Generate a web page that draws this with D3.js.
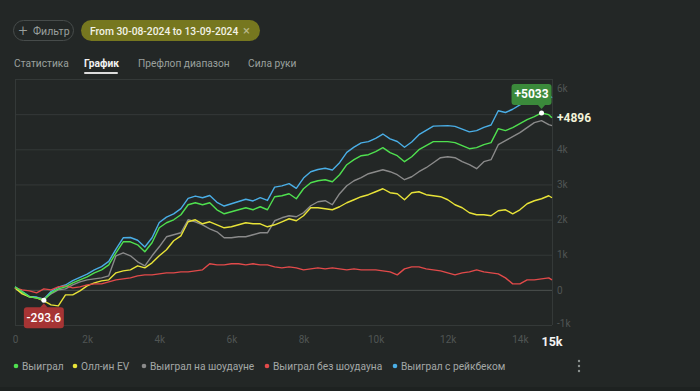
<!DOCTYPE html>
<html><head><meta charset="utf-8">
<script src="https://cdn.jsdelivr.net/npm/d3@7/dist/d3.min.js"></script>
<style>
html,body{margin:0;padding:0;background:#232726;}
svg{display:block;font-family:Roboto,"Noto Sans",sans-serif;}
</style></head><body>
<svg id="c" width="700" height="391"></svg>
<script>
const hands = [0,200,400,600,800,1000,1200,1400,1600,1800,2000,2200,2400,2600,2800,3000,3200,3400,3600,3800,4000,4200,4400,4600,4800,5000,5200,5400,5600,5800,6000,6200,6400,6600,6800,7000,7200,7400,7600,7800,8000,8200,8400,8600,8800,9000,9200,9400,9600,9800,10000,10200,10400,10600,10800,11000,11200,11400,11600,11800,12000,12200,12400,12600,12800,13000,13200,13400,13600,13800,14000,14200,14400,14600,14800,14890];
const won = [85,-57,-199,-228,-293.6,-85,28,85,199,285,370,484,570,712,1054,1368,1368,1282,1083,1339,1766,1909,1994,2137,2422,2479,2422,2479,2279,2165,2222,2279,2336,2279,2365,2279,2650,2678,2735,2593,2877,3048,3105,3134,3077,3276,3561,3704,3818,3846,3932,4046,3903,3818,3647,3789,3989,4103,4217,4217,4217,4188,4103,4017,4046,4131,4188,4587,4530,4615,4729,4843,4929,5033,4986,4896];
const allinEV = [57,-114,-199,-228,-313,-427,-456,-142,-142,-28,114,199,256,285,484,541,570,684,627,769,969,1140,1396,1538,1937,1994,1880,1937,1852,1766,1795,1852,1909,1880,1880,1795,1852,1937,2023,1966,2108,2336,2336,2308,2279,2365,2479,2564,2650,2707,2792,2877,2764,2735,2564,2764,2792,2707,2678,2650,2564,2422,2336,2194,2137,2137,2108,2251,2279,2165,2279,2450,2536,2593,2678,2621];
const wonShowdown = [57,-85,-199,-228,-256,-114,0,28,142,228,285,313,342,399,969,1054,969,798,684,969,1225,1510,1567,1624,1994,1937,1852,1738,1652,1481,1481,1510,1510,1567,1624,1624,1966,2051,2108,2080,2194,2393,2507,2536,2422,2735,2963,3105,3191,3305,3362,3419,3362,3276,3134,3219,3362,3476,3618,3761,3789,3761,3647,3561,3447,3647,3704,4131,4245,4359,4473,4615,4758,4815,4701,4672];
const wonNoShowdown = [57,0,-28,-85,28,0,85,114,57,85,142,171,171,228,285,313,342,399,427,427,456,484,484,513,513,541,570,741,712,712,741,741,712,741,712,712,655,627,655,627,570,598,627,598,627,598,570,598,570,570,570,541,513,427,598,655,655,598,570,541,484,427,484,513,570,513,484,456,342,171,171,285,285,313,342,285];
const wonRakeback = [85,-50,-184,-205,-263,-47,74,138,260,353,446,568,661,811,1160,1482,1490,1411,1220,1483,1918,2069,2161,2312,2604,2669,2620,2684,2492,2385,2450,2515,2579,2530,2623,2545,2924,2959,3024,2889,3181,3360,3424,3461,3411,3618,3911,4061,4183,4218,4312,4434,4298,4221,4057,4207,4415,4536,4658,4665,4673,4652,4574,4496,4532,4625,4690,5096,5047,5139,5261,5383,5476,5588,5548,5466];

const seriesNames = ["Выиграл","Олл-ин EV","Выиграл на шоудауне","Выиграл без шоудауна","Выиграл с рейкбеком"];
const seriesColors = ["#4fe04f","#e8e338","#8a8a8a","#e24a4a","#4aaee6"];
const seriesValues = [won, allinEV, wonShowdown, wonNoShowdown, wonRakeback];
const yTicks = [-1000,0,1000,2000,3000,4000,5000,6000];
const yLabelTicks = [-1000,0,1000,2000,3000,4000,6000];
const xTicks = [0,2000,4000,6000,8000,10000,12000,14000];
const tabs = ["Статистика","График","Префлоп диапазон","Сила руки"];

const svg = d3.select("#c");
svg.append("rect").attr("width",700).attr("height",391).attr("fill","#232726");
svg.append("rect").attr("y",387).attr("width",700).attr("height",4).attr("fill","#1e2221");

// top bar
svg.append("rect").attr("x",13.5).attr("y",20.5).attr("width",60).attr("height",20).attr("rx",10)
  .attr("fill","none").attr("stroke","#474c4b");
svg.append("text").attr("x",18.5).attr("y",35.5).attr("fill","#9aa09e").attr("font-size",16).attr("font-weight",300).text("+");
svg.append("text").attr("x",33).attr("y",34.5).attr("fill","#9aa09e").attr("font-size",10.5).text("Фильтр");
svg.append("rect").attr("x",81).attr("y",20).attr("width",179).attr("height",21).attr("rx",10.5).attr("fill","#76771f");
svg.append("text").attr("x",90).attr("y",34.5).attr("fill","#f2f2e6").attr("font-size",10.3).attr("font-weight",500)
  .text("From 30-08-2024 to 13-09-2024");
svg.append("text").attr("x",243).attr("y",35).attr("fill","#b9b98a").attr("font-size",13).text("×");

const tabX = [14,84,138,248];
tabs.forEach((t,i)=>{
  svg.append("text").attr("x",tabX[i]).attr("y",67).attr("font-size",10.2)
    .attr("fill", i===1 ? "#f2f2f2" : "#9aa09e").attr("font-weight", i===1 ? 700 : 400).text(t);
});
svg.append("rect").attr("x",84).attr("y",72).attr("width",34).attr("height",2).attr("rx",1).attr("fill","#dcdcdc");

// chart
const x = d3.scaleLinear().domain([0,14890]).range([15,552]);
const y = d3.scaleLinear().domain([-1000,6000]).range([325,79]);

const grid = svg.append("g").attr("transform","translate(15,0)")
  .call(d3.axisLeft(y).tickValues(yTicks).tickSize(-537).tickFormat(""));
grid.select(".domain").remove();
grid.selectAll(".tick line").attr("stroke", d=> d===0 ? "#4c5150" : "#343938");
svg.append("line").attr("x1",15.5).attr("x2",15.5).attr("y1",79).attr("y2",325).attr("stroke","#343938");
svg.append("line").attr("x1",552.5).attr("x2",552.5).attr("y1",79).attr("y2",325).attr("stroke","#343938");

const yAx = svg.append("g").attr("transform","translate(556,0)")
  .call(d3.axisRight(y).tickValues(yLabelTicks).tickSize(0).tickPadding(1)
    .tickFormat(d=> d===0 ? "0" : (d/1000)+"k"));
yAx.select(".domain").remove();
yAx.selectAll("text").attr("fill","#505554").attr("font-size",10).attr("font-family","Roboto,sans-serif");
yAx.selectAll(".tick").filter(d=>d===6000).select("text").attr("dy","1.2em");
yAx.selectAll(".tick").filter(d=>d===-1000).select("text").attr("dy","0.1em");

const xAx = svg.append("g").attr("transform","translate(0,336)")
  .call(d3.axisBottom(x).tickValues(xTicks).tickSize(0).tickPadding(0)
    .tickFormat(d=> d===0 ? "0" : (d/1000)+"k"));
xAx.select(".domain").remove();
xAx.selectAll("text").attr("fill","#505554").attr("font-size",10).attr("font-family","Roboto,sans-serif");
svg.append("text").attr("x",x(14890)).attr("y",346).attr("text-anchor","middle")
  .attr("fill","#f4f4f4").attr("font-size",12.5).attr("font-weight",700).text("15k");

const line = d3.line().x((d,i)=>x(hands[i])).y(d=>y(d));
const order = [4,2,1,3,0];
order.forEach(k=>{
  svg.append("path").datum(seriesValues[k]).attr("d",line)
    .attr("fill","none").attr("stroke",seriesColors[k]).attr("stroke-width",1.4)
    .attr("stroke-linejoin","round");
});

// max tooltip
const maxI = won.indexOf(d3.max(won));
const mx = x(hands[maxI]), my = y(won[maxI]);
svg.append("circle").attr("cx",mx).attr("cy",my).attr("r",2.5).attr("fill","#ffffff");
svg.append("rect").attr("x",mx-30).attr("y",my-29).attr("width",40).attr("height",21).attr("rx",3).attr("fill","#3b8a3b");
svg.append("path").attr("d",`M${mx-4},${my-8.5}L${mx+4},${my-8.5}L${mx},${my-4}Z`).attr("fill","#3b8a3b");
svg.append("text").attr("x",mx-10).attr("y",my-14.5).attr("text-anchor","middle").attr("fill","#ffffff")
  .attr("font-size",12).attr("font-weight",700).text("+"+d3.max(won));

// min tooltip
const minI = won.indexOf(d3.min(won));
const nx = x(hands[minI]), ny = y(won[minI]);
svg.append("circle").attr("cx",nx).attr("cy",ny).attr("r",2.5).attr("fill","#ffffff");
svg.append("rect").attr("x",nx-20).attr("y",ny+7).attr("width",40).attr("height",21).attr("rx",3).attr("fill","#a63434");
svg.append("path").attr("d",`M${nx-4},${ny+7.5}L${nx+4},${ny+7.5}L${nx},${ny+3}Z`).attr("fill","#a63434");
svg.append("text").attr("x",nx).attr("y",ny+22).attr("text-anchor","middle").attr("fill","#ffffff")
  .attr("font-size",12).attr("font-weight",500).text(d3.min(won));

// last value label
svg.append("text").attr("x",557).attr("y",y(won[won.length-1])+4).attr("fill","#f3f3d8")
  .attr("font-size",12).attr("font-weight",700).text("+"+won[won.length-1]);

// legend
const legX = [16,75,144,267,395];
seriesNames.forEach((n,i)=>{
  svg.append("circle").attr("cx",legX[i]).attr("cy",366).attr("r",2.3).attr("fill",seriesColors[i]);
  svg.append("text").attr("x",legX[i]+6).attr("y",370).attr("fill","#a3a8a6").attr("font-size",10.2).text(n);
});
[361,366,371].forEach(cy=>svg.append("circle").attr("cx",579).attr("cy",cy).attr("r",1.2).attr("fill","#8d9290"));
</script>
</body></html>
